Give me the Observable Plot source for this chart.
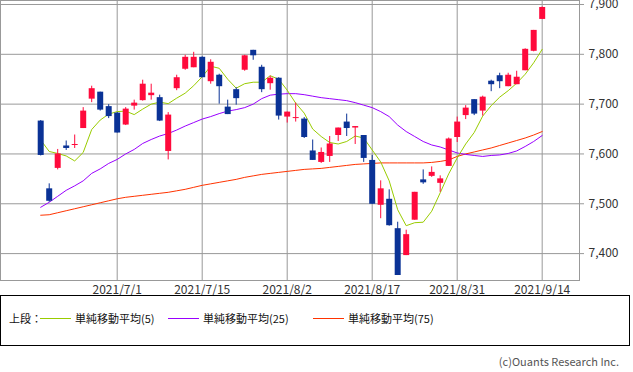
<!DOCTYPE html>
<html><head><meta charset="utf-8">
<script src="https://cdn.jsdelivr.net/npm/d3@7"></script>
<script src="https://cdn.jsdelivr.net/npm/@observablehq/plot@0.6"></script>
<style>
body{margin:0;background:#fff;font-family:"Noto Sans CJK JP","Noto Sans",sans-serif;}
#wrap{position:relative;width:633px;height:372px;overflow:hidden;background:#fff;}
#chart{position:absolute;left:0;top:0;}
#legend{position:absolute;left:0;top:295px;width:630px;height:51px;border:1.5px solid #000;box-sizing:border-box;font-size:11px;color:#111;}
#legend .t{position:absolute;top:15px;line-height:14px;white-space:nowrap;}
#legend .ln{position:absolute;top:22px;width:31px;height:0;border-top:1px solid;}
#caption{position:absolute;right:14px;top:353px;font-size:11px;color:#555;white-space:nowrap;}
</style>
</head><body>
<div id="wrap">
  <div id="chart"></div>
  <div id="legend"></div>
  <div id="caption">(c)Ouants Research Inc.</div>
</div>
<script>
const dates = ["2021/6/18","2021/6/21","2021/6/22","2021/6/23","2021/6/24","2021/6/25","2021/6/28","2021/6/29","2021/6/30",
"2021/7/1","2021/7/2","2021/7/5","2021/7/6","2021/7/7","2021/7/8","2021/7/9","2021/7/12","2021/7/13","2021/7/14","2021/7/15",
"2021/7/16","2021/7/19","2021/7/20","2021/7/21","2021/7/26","2021/7/27","2021/7/28","2021/7/29","2021/7/30",
"2021/8/2","2021/8/3","2021/8/4","2021/8/5","2021/8/6","2021/8/10","2021/8/11","2021/8/12","2021/8/13","2021/8/16","2021/8/17",
"2021/8/18","2021/8/19","2021/8/20","2021/8/23","2021/8/24","2021/8/25","2021/8/26","2021/8/27","2021/8/30","2021/8/31",
"2021/9/1","2021/9/2","2021/9/3","2021/9/6","2021/9/7","2021/9/8","2021/9/9","2021/9/10","2021/9/13","2021/9/14"];

const open  = [7666,7530,7571,7616,7617,7651,7710,7724,7695,7682,7658,7696,7707,7717,7713,7605,7731,7770,7773,7794,
7745,7758,7694,7729,7768,7808,7774,7741,7752,7674,7671,7670,7606,7583,7595,7637,7664,7652,7637,7587,
7497,7509,7450,7396,7467,7548,7555,7541,7575,7633,7677,7709,7686,7746,7757,7735,7739,7767,7806,7870];
const high  = [7667,7540,7609,7626,7638,7693,7736,7724,7699,7683,7693,7708,7748,7740,7718,7683,7758,7798,7804,7795,
7789,7760,7708,7733,7798,7808,7778,7756,7753,7684,7702,7673,7628,7612,7635,7652,7680,7655,7637,7597,
7546,7528,7463,7447,7523,7568,7574,7556,7632,7674,7697,7709,7716,7748,7762,7762,7766,7811,7848,7895];
const low   = [7596,7503,7568,7607,7611,7651,7703,7686,7671,7642,7657,7688,7706,7708,7665,7588,7727,7768,7773,7753,
7740,7700,7679,7698,7766,7788,7723,7728,7668,7662,7664,7631,7587,7581,7583,7625,7635,7619,7583,7499,
7470,7455,7356,7396,7467,7539,7553,7523,7575,7623,7669,7677,7676,7725,7731,7735,7739,7767,7805,7870];
const close = [7597,7505,7600,7611,7619,7686,7731,7688,7675,7642,7690,7702,7740,7722,7666,7678,7753,7794,7794,7753,
7784,7735,7679,7711,7797,7797,7729,7752,7676,7684,7673,7633,7587,7603,7620,7652,7651,7655,7591,7499,
7530,7456,7356,7438,7523,7542,7563,7550,7630,7664,7692,7680,7714,7739,7745,7758,7754,7810,7848,7894];

const ma5  = [7628,7605,7601,7596,7586,7603,7649,7668,7680,7685,7686,7679,7690,7700,7704,7701,7712,7722,7737,7755,
7776,7772,7750,7732,7741,7744,7744,7757,7750,7728,7702,7682,7650,7635,7623,7620,7625,7636,7632,7608,
7584,7546,7488,7456,7462,7463,7485,7522,7560,7592,7620,7643,7676,7697,7714,7727,7742,7760,7783,7810];
const ma25 = [7493,7503,7515,7527,7536,7546,7561,7570,7581,7589,7600,7609,7621,7629,7636,7641,7648,7656,7663,7670,
7675,7681,7686,7689,7693,7700,7711,7718,7720,7721,7721,7719,7716,7713,7711,7709,7707,7703,7698,7693,
7685,7675,7658,7645,7635,7625,7618,7614,7608,7602,7599,7597,7595,7597,7598,7601,7606,7615,7625,7637];
const ma75 = [7477,7478,7482,7486,7490,7494,7498,7502,7506,7510,7513,7515,7517,7519,7521,7523,7526,7529,7533,7537,
7540,7543,7546,7549,7553,7556,7559,7561,7563,7565,7567,7569,7570,7571,7573,7575,7577,7579,7580,7581,
7582,7582,7582,7582,7582,7582,7583,7585,7588,7595,7600,7604,7608,7612,7617,7622,7627,7632,7638,7645];

const tickDates = ["2021/7/1","2021/7/15","2021/8/2","2021/8/17","2021/8/31","2021/9/14"];
const yTicks = [7400,7500,7600,7700,7800,7900];

const legendPrefix = "上段：";
const legendLabels = ["単純移動平均(5)","単純移動平均(25)","単純移動平均(75)"];
const maColors = ["#99cc00","#9900ff","#ff3300"];
const UP = "#ff0a3c", DOWN = "#0a3296";

const data = dates.map((d,i)=>({i, date:d, open:open[i], high:high[i], low:low[i], close:close[i], ma5:ma5[i], ma25:ma25[i], ma75:ma75[i]}));
const tickIdx = tickDates.map(d=>dates.indexOf(d));
const candleColor = d => d.close >= d.open ? UP : DOWN;

const chart = Plot.plot({
  width: 633, height: 295,
  marginLeft: 0, marginRight: 54, marginTop: 0, marginBottom: 15,
  style: {fontFamily: '"Noto Sans CJK JP","Noto Sans",sans-serif', fontSize: "12px", color: "#333", background: "transparent", overflow: "visible"},
  x: {type: "linear", domain: [-4.73, 63.39], label: null},
  y: {domain: [7346, 7908], label: null},
  marks: [
    Plot.gridY(yTicks, {stroke: "#999", strokeOpacity: 1}),
    Plot.gridX(tickIdx, {stroke: "#999", strokeOpacity: 1}),
    Plot.frame({stroke: "#999"}),
    Plot.line(data, {x: "i", y: "ma75", stroke: maColors[2], strokeWidth: 1}),
    Plot.line(data, {x: "i", y: "ma25", stroke: maColors[1], strokeWidth: 1}),
    Plot.line(data, {x: "i", y: "ma5", stroke: maColors[0], strokeWidth: 1}),
    Plot.ruleX(data, {x: "i", y1: "low", y2: "high", stroke: candleColor, strokeWidth: 1}),
    Plot.ruleX(data, {x: "i", y1: "open", y2: "close", stroke: candleColor, strokeWidth: 6}),
    Plot.axisY(yTicks, {anchor: "right", label: null, tickFormat: d3.format(","), tickSize: 4, tickPadding: 5, stroke: "#999", fill: "#333"}),
    Plot.axisX(tickIdx, {anchor: "bottom", label: null, tickFormat: i => dates[i], tickSize: 0, tickPadding: 5, fill: "#333"})
  ]
});
document.getElementById("chart").appendChild(chart);

const lg = document.getElementById("legend");
const addT = (txt, left) => { const s = document.createElement("span"); s.className = "t"; s.style.left = left + "px"; s.textContent = txt; lg.appendChild(s); };
const addL = (col, left) => { const s = document.createElement("span"); s.className = "ln"; s.style.left = left + "px"; s.style.borderTopColor = col; lg.appendChild(s); };
addT(legendPrefix, 8);
const lineLeft = [39, 167, 312];
legendLabels.forEach((lab, k) => { addL(maColors[k], lineLeft[k]); addT(lab, lineLeft[k] + 35); });
</script>
</body></html>
